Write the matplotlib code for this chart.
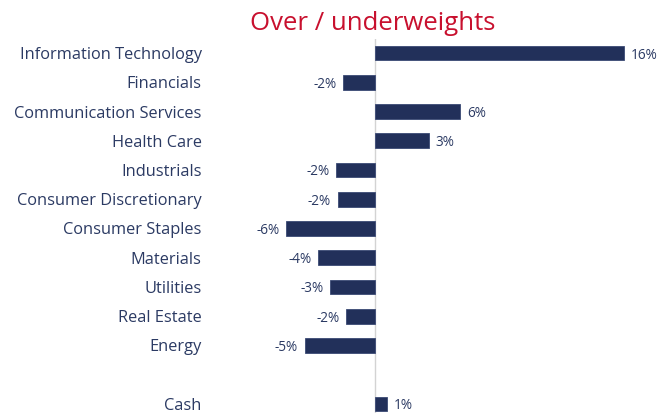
import matplotlib
matplotlib.use("Agg")
import matplotlib.pyplot as plt

sectors = ["Information Technology", "Financials", "Communication Services",
           "Health Care", "Industrials", "Consumer Discretionary",
           "Consumer Staples", "Materials", "Utilities", "Real Estate",
           "Energy", "Cash"]
weights = [16.06, -2.08, 5.51, 3.46, -2.49, -2.41, -5.72, -3.68, -2.92,
           -1.85, -4.54, 0.79]
# Cash sits one slot below the rest
positions = list(range(11)) + [12]

BAR = "#22305a"
TEXT = "#2b3a63"
RED = "#c8102e"

plt.rcParams['font.family'] = ['Open Sans', 'DejaVu Sans']

fig = plt.figure(figsize=(6.68, 4.13), dpi=100)
ax = fig.add_axes([0.3061, 0.0, 0.6845, 0.9056])

ax.barh(positions, weights, height=0.5, color=BAR, edgecolor="#3b4a75",
        linewidth=0.6, zorder=2)
ax.axvline(0, color="#d3d3d3", linewidth=1.0, zorder=1)

for y, v in zip(positions, weights):
    txt = f"{round(v):d}%"
    if v >= 0:
        ax.text(v + 0.42, y, txt, va="center_baseline", ha="left",
                fontsize=9.8, color=TEXT)
    else:
        ax.text(v - 0.42, y, txt, va="center_baseline", ha="right",
                fontsize=9.8, color=TEXT)

ax.set_yticks(positions)
ax.set_yticklabels(sectors, fontsize=11.8, color=TEXT)
ax.tick_params(axis="y", length=0, pad=2)
ax.set_xticks([])
ax.set_xlim(-11, 18.5)
ax.set_ylim(12.31, -0.48)
for s in ax.spines.values():
    s.set_visible(False)

fig.text(0.5584, 1 - 23 / 413, "Over / underweights", ha="center", va="center",
         fontsize=18.5, color=RED)

fig.savefig("out.png", dpi=100)
